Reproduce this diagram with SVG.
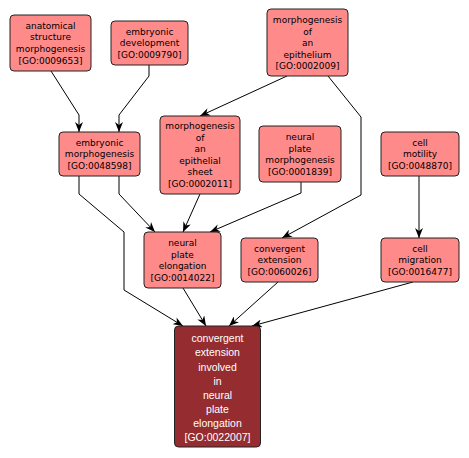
<svg xmlns="http://www.w3.org/2000/svg" width="469" height="458" viewBox="0 0 469 458">
<style>
.n rect{fill:#ff8a8a;stroke:#222;stroke-width:1}
.n text{font-family:"DejaVu Sans",sans-serif;font-size:9px;fill:#000;text-anchor:middle;dominant-baseline:central}
.f rect{fill:#952d30;stroke:#222;stroke-width:1}
.f text{font-family:"Liberation Sans",Arial,sans-serif;font-size:10.5px;fill:#fff;text-anchor:middle;dominant-baseline:central}
.e path{fill:none;stroke:#000;stroke-width:1;marker-end:url(#a)}
</style>
<defs>
<marker id="a" viewBox="0 0 10 8" refX="10" refY="4" markerWidth="10" markerHeight="8" markerUnits="userSpaceOnUse" orient="auto">
<path d="M0,0 L10,4 L0,8 L3,4 z" fill="#000"/>
</marker>
</defs>
<rect width="469" height="458" fill="#fff"/>
<g class="e">
<path d="M51,71 L79,115 L79,132"/>
<path d="M149,65 L149,76 L119,115 L119,132"/>
<path d="M287,76 L200,116"/>
<path d="M328,76 L361,117 L361,195 L282,238"/>
<path d="M119,176 L119,194 L155,232"/>
<path d="M79,176 L79,194 L124,232 L124,290 L183,326"/>
<path d="M200,194 L183,232"/>
<path d="M301,182 L301,193 L210,232"/>
<path d="M183,288 L206,326"/>
<path d="M278,282 L229,326"/>
<path d="M413,282 L252,326"/>
<path d="M419,176 L419,238"/>
</g>
<g id="n1" class="n"><rect x="10" y="15" width="81" height="56" rx="4"/>
<text x="50.5" y="25.5">anatomical</text><text x="50.5" y="37.2">structure</text><text x="50.5" y="48.8">morphogenesis</text><text x="50.5" y="60.5">[GO:0009653]</text></g>
<g id="n2" class="n"><rect x="111" y="21" width="77" height="44" rx="4"/>
<text x="149.5" y="31.5">embryonic</text><text x="149.5" y="43">development</text><text x="149.5" y="54.5">[GO:0009790]</text></g>
<g id="n3" class="n"><rect x="267" y="9" width="81" height="67" rx="4"/>
<text x="307.5" y="20">morphogenesis</text><text x="307.5" y="31.5">of</text><text x="307.5" y="43">an</text><text x="307.5" y="54.5">epithelium</text><text x="307.5" y="66">[GO:0002009]</text></g>
<g id="n4" class="n"><rect x="59" y="132" width="81" height="44" rx="4"/>
<text x="99.5" y="142.5">embryonic</text><text x="99.5" y="154">morphogenesis</text><text x="99.5" y="165.5">[GO:0048598]</text></g>
<g id="n5" class="n"><rect x="160" y="116" width="80" height="78" rx="4"/>
<text x="200" y="126.3">morphogenesis</text><text x="200" y="137.8">of</text><text x="200" y="149.3">an</text><text x="200" y="160.8">epithelial</text><text x="200" y="172.3">sheet</text><text x="200" y="183.8">[GO:0002011]</text></g>
<g id="n6" class="n"><rect x="144" y="232" width="77" height="56" rx="4"/>
<text x="182.5" y="243">neural</text><text x="182.5" y="254.5">plate</text><text x="182.5" y="266">elongation</text><text x="182.5" y="277.5">[GO:0014022]</text></g>
<g id="n7" class="n"><rect x="259" y="126" width="82" height="56" rx="4"/>
<text x="300" y="137">neural</text><text x="300" y="148.5">plate</text><text x="300" y="160">morphogenesis</text><text x="300" y="171.5">[GO:0001839]</text></g>
<g id="n8" class="n"><rect x="381" y="132" width="78" height="44" rx="4"/>
<text x="420" y="142.5">cell</text><text x="420" y="154">motility</text><text x="420" y="165.5">[GO:0048870]</text></g>
<g id="n9" class="n"><rect x="241" y="238" width="77" height="44" rx="4"/>
<text x="279.5" y="248.5">convergent</text><text x="279.5" y="260">extension</text><text x="279.5" y="271.5">[GO:0060026]</text></g>
<g id="n10" class="n"><rect x="381" y="238" width="78" height="44" rx="4"/>
<text x="420" y="248.5">cell</text><text x="420" y="260">migration</text><text x="420" y="271.5">[GO:0016477]</text></g>
<g id="n11" class="f"><rect x="174.5" y="326" width="86" height="121" rx="4"/>
<text x="217.5" y="338">convergent</text><text x="217.5" y="352">extension</text><text x="217.5" y="366.5">involved</text><text x="217.5" y="380.5">in</text><text x="217.5" y="394.5">neural</text><text x="217.5" y="408.5">plate</text><text x="217.5" y="422.5">elongation</text><text x="217.5" y="436.5">[GO:0022007]</text></g>
</svg>
